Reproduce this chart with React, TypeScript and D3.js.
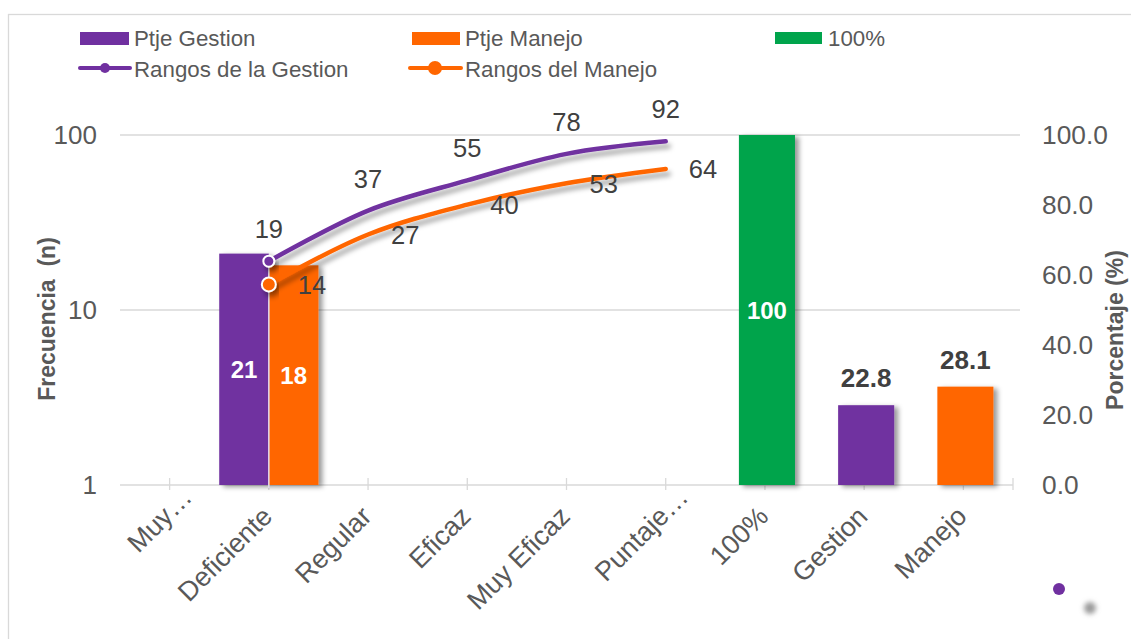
import React from "react";
import * as d3 from "d3";

// ---- data ----
const categories = ["Muy…", "Deficiente", "Regular", "Eficaz", "Muy Eficaz", "Puntaje…", "100%", "Gestion", "Manejo"];
// primary (log) axis bars
const ptjeGestion: (number | null)[] = [null, 21, null, null, null, null, null, null, null];
const ptjeManejo: (number | null)[] = [null, 18, null, null, null, null, null, null, null];
// primary (log) axis lines
const rangosGestion: (number | null)[] = [null, 19, 37, 55, 78, 92, null, null, null];
const rangosManejo: (number | null)[] = [null, 14, 27, 40, 53, 64, null, null, null];
// secondary (percent) axis bars
const pct100: (number | null)[] = [null, null, null, null, null, null, 100, null, null];
const pctGestion: (number | null)[] = [null, null, null, null, null, null, null, 22.8, null];
const pctManejo: (number | null)[] = [null, null, null, null, null, null, null, null, 28.1];
const leftTicks = [1, 10, 100];
const rightTicks = [0, 20, 40, 60, 80, 100];

const PURPLE = "#7030A0";
const ORANGE = "#FF6600";
const GREEN = "#00A44C";
const GRID = "#d9d9d9";
const TXT = "#595959";
const LBL = "#404040";
const FONT = "'Liberation Sans', Arial, sans-serif";

export default function App() {
  const W = 1131, H = 639;
  const x = d3.scaleBand<string>().domain(categories).range([120, 1013]).padding(0);
  const bw = x.bandwidth();
  const cx = (c: string) => (x(c) as number) + bw / 2;
  const yL = d3.scaleLog().domain([1, 100]).range([485, 135]);
  const yR = d3.scaleLinear().domain([0, 100]).range([485, 135]);
  const inner = d3.scaleBand<string>().domain(["g", "m"]).range([0, bw]).padding(0);
  const secW = bw * 0.565;

  const line = d3
    .line<[number, number]>()
    .x((d) => d[0])
    .y((d) => d[1])
    .curve(d3.curveCatmullRom.alpha(0.5));

  const pts = (vals: (number | null)[]) =>
    categories
      .map((c, i) => (vals[i] == null ? null : ([cx(c), yL(vals[i] as number)] as [number, number])))
      .filter((p): p is [number, number] => p !== null);

  const gPts = pts(rangosGestion);
  const mPts = pts(rangosManejo);

  const primaryBars = [
    { vals: ptjeGestion, key: "g", color: PURPLE },
    { vals: ptjeManejo, key: "m", color: ORANGE },
  ];
  const secondaryBars = [
    { vals: pct100, color: GREEN },
    { vals: pctGestion, color: PURPLE },
    { vals: pctManejo, color: ORANGE },
  ];

  return (
    <svg
      width={W}
      height={H}
      style={{ position: "absolute", left: 0, top: 0, background: "#fff" }}
      fontFamily={FONT}
    >
      <defs>
        <filter id="barShadow" x="-20%" y="-5%" width="150%" height="115%">
          <feDropShadow dx="4" dy="2" stdDeviation="2.5" floodColor="#000" floodOpacity="0.4" />
        </filter>
        <filter id="lineShadow" x="-10%" y="-20%" width="130%" height="160%">
          <feDropShadow dx="3" dy="5" stdDeviation="2.5" floodColor="#000" floodOpacity="0.35" />
        </filter>
        <filter id="blurDot" x="-100%" y="-100%" width="300%" height="300%">
          <feGaussianBlur stdDeviation="2.5" />
        </filter>
      </defs>

      {/* chart frame */}
      <rect x={8.5} y={14.5} width={1200} height={700} fill="#fff" stroke={GRID} strokeWidth={1.3} />

      {/* legend */}
      <g fontSize={22.3} fill={TXT}>
        <rect x={80} y={32} width={49} height={13} fill={PURPLE} />
        <text x={134} y={46}>Ptje Gestion</text>
        <rect x={412} y={32} width={48} height={13} fill={ORANGE} />
        <text x={465} y={46}>Ptje Manejo</text>
        <rect x={775} y={32} width={47} height={12} fill={GREEN} />
        <text x={828} y={46}>100%</text>
        <line x1={80} x2={130} y1={68} y2={68} stroke={PURPLE} strokeWidth={4} strokeLinecap="round" />
        <circle cx={105} cy={68} r={5} fill={PURPLE} />
        <text x={134} y={77}>Rangos de la Gestion</text>
        <line x1={410} x2={461} y1={68} y2={68} stroke={ORANGE} strokeWidth={4} strokeLinecap="round" />
        <circle cx={435} cy={68} r={7} fill={ORANGE} />
        <text x={465} y={77}>Rangos del Manejo</text>
      </g>

      {/* gridlines */}
      {leftTicks.slice(1).map((t) => (
        <line key={t} x1={120} x2={1020} y1={yL(t)} y2={yL(t)} stroke={GRID} strokeWidth={1.3} />
      ))}
      {/* category axis */}
      <line x1={120} x2={1013} y1={485} y2={485} stroke={GRID} strokeWidth={1.5} />
      {categories.map((c) => (
        <line key={c} x1={cx(c)} x2={cx(c)} y1={478} y2={490} stroke={GRID} strokeWidth={1.3} />
      ))}
      <line x1={1013} x2={1013} y1={478} y2={490} stroke={GRID} strokeWidth={1.3} />

      {/* left axis tick labels */}
      <g fontSize={26} fill={TXT} textAnchor="end">
        {leftTicks.map((t) => (
          <text key={t} x={97} y={yL(t) + 9}>
            {d3.format("d")(t)}
          </text>
        ))}
      </g>
      {/* right axis tick labels */}
      <g fontSize={26.3} fill={TXT} textAnchor="start">
        {rightTicks.map((t) => (
          <text key={t} x={1042} y={yR(t) + 9}>
            {d3.format(".1f")(t)}
          </text>
        ))}
      </g>

      {/* axis titles */}
      <text
        transform="translate(55,319) rotate(-90)"
        textAnchor="middle"
        fontSize={23}
        fontWeight="bold"
        fill={TXT}
        style={{ whiteSpace: "pre" }}
      >
        {"Frecuencia  (n)"}
      </text>
      <text transform="translate(1123,330) rotate(-90)" textAnchor="middle" fontSize={23} fontWeight="bold" fill={TXT}>
        Porcentaje (%)
      </text>

      {/* category labels */}
      <g fontSize={27} fill={TXT} textAnchor="end">
        {categories.map((c) => {
          const extra = c.endsWith("…") ? 27 : 0;
          return (
            <text key={c} transform={`translate(${cx(c) + 5},${518}) rotate(-45)`} x={extra}>
              {c}
            </text>
          );
        })}
      </g>

      {/* primary bars (log scale) */}
      <g filter="url(#barShadow)">
        {primaryBars.map((s) =>
          categories.map((c, i) =>
            s.vals[i] == null ? null : (
              <rect
                key={s.key + c}
                x={(x(c) as number) + (inner(s.key) as number)}
                width={inner.bandwidth()}
                y={yL(s.vals[i] as number)}
                height={485 - yL(s.vals[i] as number)}
                fill={s.color}
              />
            )
          )
        )}
      </g>
      <line x1={cx("Deficiente")} x2={cx("Deficiente")} y1={yL(18)} y2={488} stroke="#e4dcef" strokeWidth={1.5} />

      {/* secondary bars (percent) */}
      <g filter="url(#barShadow)">
        {secondaryBars.map((s, si) =>
          categories.map((c, i) =>
            s.vals[i] == null ? null : (
              <rect
                key={si + c}
                x={cx(c) - secW / 2 + 2}
                width={secW}
                y={yR(s.vals[i] as number)}
                height={485 - yR(s.vals[i] as number)}
                fill={s.color}
              />
            )
          )
        )}
      </g>

      {/* lines */}
      <g filter="url(#lineShadow)" fill="none" strokeWidth={4.5} strokeLinecap="round">
        <path d={line(gPts) as string} stroke={PURPLE} />
        <path d={line(mPts) as string} stroke={ORANGE} />
      </g>
      <g filter="url(#lineShadow)">
        <circle cx={gPts[0][0]} cy={gPts[0][1]} r={5.5} fill={PURPLE} stroke="#fff" strokeWidth={2} />
        <circle cx={mPts[0][0]} cy={mPts[0][1]} r={7} fill={ORANGE} stroke="#fff" strokeWidth={2} />
      </g>

      {/* line labels */}
      <g fontSize={25.5} fill={LBL}>
        {categories.map((c, i) =>
          rangosGestion[i] == null ? null : (
            <text key={"g" + c} x={cx(c)} y={yL(rangosGestion[i] as number) - 23} textAnchor="middle">
              {rangosGestion[i]}
            </text>
          )
        )}
        {categories.map((c, i) =>
          rangosManejo[i] == null ? null : (
            <text key={"m" + c} x={cx(c) + (i === 1 ? 29 : 23)} y={yL(rangosManejo[i] as number) + 9.5} textAnchor="start">
              {rangosManejo[i]}
            </text>
          )
        )}
      </g>

      {/* bar labels */}
      <g fontSize={24} fontWeight="bold" textAnchor="middle">
        {primaryBars.map((s) =>
          categories.map((c, i) =>
            s.vals[i] == null ? null : (
              <text
                key={"l" + s.key + c}
                x={(x(c) as number) + (inner(s.key) as number) + inner.bandwidth() / 2}
                y={(yL(s.vals[i] as number) + 485) / 2 + 8.5}
                fill="#fff"
              >
                {s.vals[i]}
              </text>
            )
          )
        )}
        {categories.map((c, i) =>
          pct100[i] == null ? null : (
            <text key={"p100" + c} x={cx(c) + 2} y={(yR(pct100[i] as number) + 485) / 2 + 8.5} fill="#fff">
              {pct100[i]}
            </text>
          )
        )}
      </g>
      <g fontSize={26} fontWeight="bold" textAnchor="middle" fill={LBL}>
        {[pctGestion, pctManejo].map((vals, si) =>
          categories.map((c, i) =>
            vals[i] == null ? null : (
              <text key={"pl" + si + c} x={cx(c) + 2} y={yR(vals[i] as number) - 18}>
                {d3.format(".1f")(vals[i] as number)}
              </text>
            )
          )
        )}
      </g>

      {/* corner dots */}
      <circle cx={1059} cy={589} r={6} fill={PURPLE} />
      <circle cx={1090} cy={608} r={6} fill="#9a9a9a" filter="url(#blurDot)" />
    </svg>
  );
}
